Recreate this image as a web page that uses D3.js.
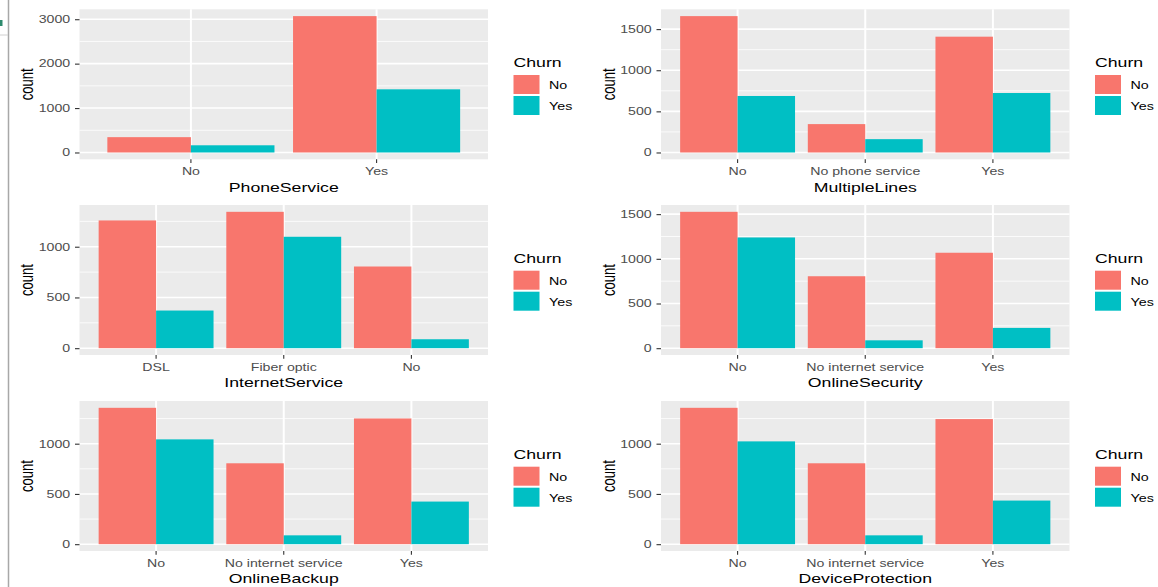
<!DOCTYPE html>
<html><head><meta charset="utf-8">
<script src="https://cdn.jsdelivr.net/npm/d3@7"></script>
<style>
body{margin:0;background:#fff;}
svg{display:block;font-family:"Liberation Sans",Arial,Helvetica,sans-serif;}
</style>
</head><body>
<svg id="c" width="1158" height="587"></svg>
<script>
// ---------------- data ----------------
const fillTitle = "Churn";
const churnLevels = ["No", "Yes"];
const churnColors = ["#F8766D", "#00BFC4"];
const yTitle = "count";

const phoneServiceCats = ["No", "Yes"];
const phoneServiceNo = [345, 3070];
const phoneServiceYes = [162, 1422];
const phoneServiceTicks = [0, 1000, 2000, 3000];

const multipleLinesCats = ["No", "No phone service", "Yes"];
const multipleLinesNo = [1658, 345, 1408];
const multipleLinesYes = [687, 162, 723];
const multipleLinesTicks = [0, 500, 1000, 1500];

const internetServiceCats = ["DSL", "Fiber optic", "No"];
const internetServiceNo = [1259, 1344, 805];
const internetServiceYes = [371, 1098, 88];
const internetServiceTicks = [0, 500, 1000];

const onlineSecurityCats = ["No", "No internet service", "Yes"];
const onlineSecurityNo = [1526, 805, 1068];
const onlineSecurityYes = [1239, 88, 227];
const onlineSecurityTicks = [0, 500, 1000, 1500];

const onlineBackupCats = ["No", "No internet service", "Yes"];
const onlineBackupNo = [1357, 805, 1251];
const onlineBackupYes = [1043, 88, 424];
const onlineBackupTicks = [0, 500, 1000];

const deviceProtectionCats = ["No", "No internet service", "Yes"];
const deviceProtectionNo = [1357, 805, 1245];
const deviceProtectionYes = [1023, 88, 434];
const deviceProtectionTicks = [0, 500, 1000];

const panels = [
  {name: "PhoneService", cats: phoneServiceCats, no: phoneServiceNo, yes: phoneServiceYes, ticks: phoneServiceTicks},
  {name: "MultipleLines", cats: multipleLinesCats, no: multipleLinesNo, yes: multipleLinesYes, ticks: multipleLinesTicks},
  {name: "InternetService", cats: internetServiceCats, no: internetServiceNo, yes: internetServiceYes, ticks: internetServiceTicks},
  {name: "OnlineSecurity", cats: onlineSecurityCats, no: onlineSecurityNo, yes: onlineSecurityYes, ticks: onlineSecurityTicks},
  {name: "OnlineBackup", cats: onlineBackupCats, no: onlineBackupNo, yes: onlineBackupYes, ticks: onlineBackupTicks},
  {name: "DeviceProtection", cats: deviceProtectionCats, no: deviceProtectionNo, yes: deviceProtectionYes, ticks: deviceProtectionTicks}
];

// ---------------- layout ----------------
const SX = 1.36;            // horizontal stretch of the screenshot
const colX = [79.5, 661];
const rowY = [9.3, 205, 401];
const PW = 408.5, PH = 150;

const svg = d3.select("#c");

// screenshot edge artefacts
svg.append("line").attr("x1", 8.5).attr("x2", 8.5).attr("y1", 0).attr("y2", 587)
  .attr("stroke", "#a8a8a8").attr("stroke-width", 1.5);
svg.append("line").attr("x1", 0).attr("x2", 8).attr("y1", 35).attr("y2", 35)
  .attr("stroke", "#d0d0d0").attr("stroke-width", 1);
svg.append("rect").attr("x", 0).attr("y", 20).attr("width", 2.5).attr("height", 6)
  .attr("fill", "#2e8b6e");

function stretchedText(g, x, y, str, size, color, anchor) {
  return g.append("text")
    .attr("transform", `translate(${x},${y}) scale(${SX},1)`)
    .attr("text-anchor", anchor || "start")
    .attr("font-size", size)
    .attr("fill", color)
    .text(str);
}

panels.forEach((p, i) => {
  const px = colX[i % 2], py = rowY[Math.floor(i / 2)];
  const g = svg.append("g").attr("transform", `translate(${px},${py})`);
  const maxV = d3.max(p.no.concat(p.yes));

  const x = d3.scaleBand().domain(p.cats).range([0, PW]).paddingInner(0).paddingOuter(0.1);
  const step = x.step();
  const xIn = d3.scaleBand().domain(churnLevels).range([-0.45 * step, 0.45 * step]);
  const y = d3.scaleLinear().domain([-0.05 * maxV, 1.05 * maxV]).range([PH, 0]);
  const color = d3.scaleOrdinal().domain(churnLevels).range(churnColors);

  g.append("rect").attr("width", PW).attr("height", PH).attr("fill", "#EBEBEB");

  // minor gridlines
  const minor = [];
  for (let k = 0; k < p.ticks.length + 1; k++) {
    const a = k === 0 ? p.ticks[0] - (p.ticks[1] - p.ticks[0]) : p.ticks[k - 1];
    const b = k < p.ticks.length ? p.ticks[k] : p.ticks[k - 1] + (p.ticks[1] - p.ticks[0]);
    const m = (a + b) / 2;
    if (m > y.domain()[0] && m < y.domain()[1]) minor.push(m);
  }
  g.selectAll(".mn").data(minor).join("line")
    .attr("x1", 0).attr("x2", PW).attr("y1", d => y(d)).attr("y2", d => y(d))
    .attr("stroke", "#fff").attr("stroke-width", 0.8);
  // major gridlines
  g.selectAll(".mjy").data(p.ticks).join("line")
    .attr("x1", 0).attr("x2", PW).attr("y1", d => y(d)).attr("y2", d => y(d))
    .attr("stroke", "#fff").attr("stroke-width", 1.6);
  g.selectAll(".mjx").data(p.cats).join("line")
    .attr("x1", d => x(d) + step / 2).attr("x2", d => x(d) + step / 2)
    .attr("y1", 0).attr("y2", PH)
    .attr("stroke", "#fff").attr("stroke-width", 2);

  // bars
  const rows = [];
  p.cats.forEach((c, j) => {
    rows.push({cat: c, churn: "No", v: p.no[j]});
    rows.push({cat: c, churn: "Yes", v: p.yes[j]});
  });
  g.selectAll(".bar").data(rows).join("rect")
    .attr("x", d => x(d.cat) + step / 2 + xIn(d.churn))
    .attr("width", xIn.bandwidth())
    .attr("y", d => y(d.v))
    .attr("height", d => y(0) - y(d.v))
    .attr("fill", d => color(d.churn));

  // y axis
  const ya = g.append("g").call(d3.axisLeft(y).tickValues(p.ticks).tickSize(4.5).tickPadding(4.8).tickFormat(d3.format("d")));
  ya.select(".domain").remove();
  ya.selectAll(".tick line").attr("stroke", "#333333").attr("stroke-width", 1.1);
  ya.selectAll(".tick text")
    .attr("font-size", 10.4).attr("fill", "#4D4D4D").attr("font-family", null)
    .attr("x", -9.3 / SX)
    .attr("transform", `scale(${SX},1)`);

  // x axis
  const xa = g.append("g").attr("transform", `translate(0,${PH})`)
    .call(d3.axisBottom(x).tickSize(3.8).tickPadding(4.5));
  xa.select(".domain").remove();
  xa.selectAll(".tick line").attr("stroke", "#333333").attr("stroke-width", 1.1);
  xa.selectAll(".tick text")
    .attr("font-size", 10.4).attr("fill", "#4D4D4D").attr("font-family", null)
    .attr("transform", `scale(${SX},1)`);

  // axis titles
  stretchedText(g, PW / 2, PH + 32.2, p.name, 13, "#000", "middle");
  g.append("text")
    .attr("transform", `translate(${-46.5},${PH / 2}) scale(${SX},1) rotate(-90)`)
    .attr("text-anchor", "middle").attr("font-size", 13).attr("fill", "#000")
    .text(yTitle);

  // legend
  const lx = PW + 25.5, c = PH / 2;
  stretchedText(g, lx, c - 17, fillTitle, 13, "#000", "start");
  churnLevels.forEach((lv, k) => {
    g.append("rect").attr("x", lx).attr("y", c - 9.3 + k * 21).attr("width", 26).attr("height", 19)
      .attr("fill", color(lv));
    stretchedText(g, lx + 35.5, c + 4.7 + k * 21, lv, 10.5, "#000", "start");
  });
});
</script>
</body></html>
